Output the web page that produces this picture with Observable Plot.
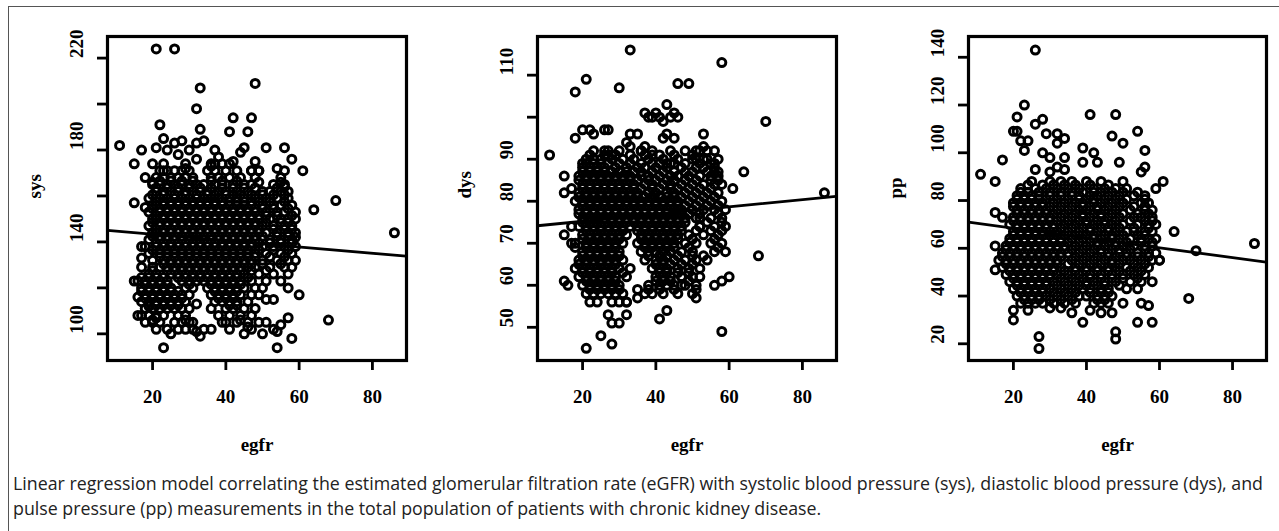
<!DOCTYPE html>
<html><head><meta charset="utf-8">
<script src="https://cdn.jsdelivr.net/npm/d3@7"></script>
<script src="https://cdn.jsdelivr.net/npm/@observablehq/plot@0.6"></script>
<style>
html,body{margin:0;padding:0;background:#fff}
body{width:1279px;height:531px;overflow:hidden;position:relative}
#border{position:absolute;left:8px;top:6px;width:1290px;height:540px;border-top:1px solid #555;border-left:1px solid #555}
.panel{position:absolute;top:0}
#caption{position:absolute;left:13px;top:471px;font-family:"Open Sans",sans-serif;font-size:18px;line-height:25px;color:#222;white-space:nowrap;transform-origin:0 0}
</style>
</head><body>
<div id="border"></div>
<div id="p1" class="panel" style="left:9px"></div>
<div id="p2" class="panel" style="left:440px"></div>
<div id="p3" class="panel" style="left:870px"></div>
<div id="caption"><div id="cap1">Linear regression model correlating the estimated glomerular filtration rate (eGFR) with systolic blood pressure (sys), diastolic blood pressure (dys), and</div><div id="cap2">pulse pressure (pp) measurements in the total population of patients with chronic kidney disease.</div></div>
<script>
// ---------- data ----------
const xDomain = [7.7, 89.3];
const xTicks = [20, 40, 60, 80];
const xName = "egfr";

const sysDomain = [88.4, 229.4];
const sysTicks = [100, 120, 140, 160, 180, 200, 220];
const sysLabels = [100, 140, 180, 220];
const sysFit = [146.1, -0.138]; // intercept, slope

const dysDomain = [42.1, 119.2];
const dysTicks = [50, 60, 70, 80, 90, 100, 110];
const dysLabels = [50, 60, 70, 80, 90, 110];
const dysFit = [73.5, 0.086];

const ppDomain = [13.0, 148.7];
const ppTicks = [20, 40, 60, 80, 100, 120, 140];
const ppLabels = [20, 40, 60, 80, 100, 120, 140];
const ppFit = [72.5, -0.205];

// scattered points [egfr, value]
const sysOuter = [[21,224],[26,224],[33,207],[48,209],[32,198],[42,194],[47,194],[22,191],[33,189],[41,188],[46,188],[11,182],[17,180],[21,181],[23,185],[26,183],[28,184],[32,183],[34,184],[24,180],[27,178],[30,180],[32,176],[37,180],[45,181],[51,181],[56,181],[58,176],[61,171],[15,174],[20,174],[18,168],[20,166],[23,171],[29,172],[38,177],[42,175],[44,179],[48,175],[47,171],[49,171],[54,172],[56,171],[49,166],[55,166],[56,164],[36,173],[37,174],
[15,157],[18,155],[64,154],[70,158],[86,144],[59,142],[17,138],[17,133],[17,129],[20,129],[24,129],[15,123],[16,116],[16,108],[23,94],[25,100],[32,113],[36,102],[40,105],[44,106],[45,100],[46,103],[50,100],[54,94],[58,98],[57,107],[54,101],[55,104],[53,115],[51,115],[68,106],[60,117],[57,120],[32,101],[33,99],[29,106],[31,105],[19,112],[20,106],[21,107]];
// dense core: [value, [egfr, ...]]
const sysCore = [
[174,[23,29,36,39,41]],
[171,[22,24,26,28,30,35,37,40,43,47,49]],
[168,[21,23,25,27,29,31,36,38,41,44,48,55]],
[166.5,[22,25,28,31,36,39,43]],
[165,[20,22,24,26,28,30,32,34,37,39,42,45,47,53,56]],
[163.5,[21,24,27,30,33,36,39,42,45,48,54]],
[162,[21,23,25,27,29,31,33,35,38,40,43,46,50,52,55,57]],
[160.5,[20,23,26,29,32,35,37,40,42,44,47,50,53,56]],
[159,[19,22,24,26,28,30,32,34,36,38,41,43,45,48,51,54,57]],
[157.5,[21,23,25,27,29,31,33,35,37,39,41,43,45,47,49,52,56]],
[156,[20,21,23,25,27,29,31,33,35,37,39,41,43,45,47,50,53,55,58]],
[154.5,[20,22,24,26,28,30,32,34,36,38,40,42,44,46,48,50,53,57]],
[153,[19,22,24,26,28,30,32,34,36,38,40,42,44,46,48,51,54,56,59]],
[151.5,[21,23,25,27,29,31,33,35,37,39,41,43,45,47,49,51,54,58]],
[150,[20,21,23,25,27,29,31,33,35,37,39,41,43,45,47,49,52,55,57,59]],
[148.5,[20,22,24,26,28,30,32,34,36,38,40,42,44,46,48,51,55,57]],
[147,[19,22,24,26,28,30,32,34,36,38,40,42,44,46,48,50,53,56,58]],
[145.5,[21,23,25,27,29,31,33,35,37,39,41,43,45,47,49,53,56,58]],
[144,[20,21,23,25,27,29,31,33,35,37,39,41,43,45,47,49,51,54,57,59]],
[142.5,[20,22,24,26,28,30,32,34,36,38,40,42,44,46,48,50,54,57]],
[141,[19,22,24,26,28,30,32,34,36,38,40,42,44,46,48,52,55,58]],
[139.5,[21,23,25,27,29,31,33,35,37,39,41,43,45,47,49,52,55,58]],
[138,[18,21,23,25,27,29,31,33,35,37,39,41,43,45,47,50,53,56,59]],
[136.5,[20,22,24,26,28,30,32,34,36,38,40,42,44,46,49,53,57]],
[135,[19,22,24,26,28,30,32,34,36,38,40,42,44,46,48,51,55,58]],
[133.5,[22,24,26,28,30,32,34,36,38,40,42,44,46,48,52,56]],
[132,[20,23,25,27,29,31,33,35,37,39,41,43,45,47,50,54,57,59]],
[130.5,[23,25,27,29,31,33,35,37,39,41,43,45,47,50,55]],
[129,[22,26,28,30,32,34,36,38,40,42,44,46,48,52,56,58]],
[127.5,[20,24,26,28,30,32,34,36,38,40,42,44,47,51]],
[126,[19,21,25,27,29,31,33,35,37,39,41,43,45,49,53,57]],
[124.5,[17,19,21,23,27,29,31,33,35,37,39,41,43,46]],
[123,[16,18,20,22,24,28,30,32,34,36,38,40,42,44,47,51,55]],
[121.5,[18,20,22,24,30,36,38,40,42,44]],
[120,[17,19,21,23,25,29,31,35,37,39,41,43,45,48,50]],
[118.5,[17,19,21,23,25,27,37,39,41,43]],
[117,[18,20,22,24,26,28,30,36,38,40,42,44,47,49]],
[115.5,[18,20,22,24,26,28,38,40,42]],
[114,[17,19,21,23,25,27,29,37,39,41,43,46]],
[112.5,[19,21,23,25,27,41,43]],
[111,[18,20,22,24,26,28,30,36,40,42,45,48]],
[108,[17,19,21,23,27,29,38,41,44,47]],
[105,[18,20,22,26,28,30,39,43,46,49,51]],
[102,[21,24,27,29,31,34,41,47,53]]];

const dysOuter = [[33,116],[58,113],[21,109],[18,106],[30,107],[46,108],[49,108],[70,99],[43,103],[37,101],[38,100],[39,100],[40,101],[41,100],[42,99],[44,100],[45,101],[46,100],[18,95],[20,97],[22,97],[23,96],[26,97],[27,97],[33,96],[35,96],[32,94],[33,93],[42,95],[43,96],[45,95],[53,96],[11,91],[15,86],[15,82],[17,83],[64,87],[61,83],[86,82],[20,89],[23,90],[26,92],[28,91],[36,92],[37,93],[39,91],[43,89],[45,89],[51,92],[53,93],[54,92],[56,92],[51,90],[53,90],[56,89],[57,87],
[21,45],[25,48],[28,46],[27,53],[28,51],[30,51],[32,53],[32,56],[41,52],[43,54],[58,49],[68,67],[56,60],[58,61],[60,62],[59,68],[15,61],[16,60],[15,72],[17,70],[18,69],[17,74],[35,59],[35,57],[51,57],[51,59],[52,62],[52,76],[52,74],[47,60],[47,62]];
const dysCore = [
[92,[23,27,30,36,39,44,48,52]],
[91,[22,26,29,33,37,41,45,50]],
[90,[21,25,28,31,34,38,42,46,50,54,57]],
[89,[21,23,25,27,30,33,36,39,41,44,48,52,55]],
[88,[20,22,24,26,29,32,35,37,40,43,47,51,53,56]],
[87,[20,22,24,26,28,30,32,34,36,39,42,45,48,50,54,56]],
[86,[19,21,23,25,27,29,31,33,36,38,41,44,46,49,52,55,57]],
[85,[19,21,23,25,27,29,31,33,35,38,40,43,45,48,51,55,57]],
[84,[20,22,24,26,28,30,32,34,37,39,42,44,47,50,53,56,58]],
[83,[20,22,24,26,28,30,32,34,36,39,41,44,46,49,52,55]],
[82,[19,21,23,25,27,29,31,33,35,38,40,43,45,48,51,54,57]],
[81,[19,21,23,25,27,29,31,33,35,37,39,41,43,45,47,50,53,56]],
[80,[18,20,22,24,26,28,30,32,34,36,38,40,42,44,46,49,52,55,58]],
[79,[20,22,24,26,28,30,32,34,36,38,40,42,44,46,48,51,54,57]],
[78,[19,21,23,25,27,29,31,33,35,37,39,41,43,45,47,50,53,56,59]],
[77,[19,21,23,25,27,29,31,33,35,37,39,41,43,45,47,49,52,57]],
[76,[20,22,24,26,28,30,32,34,36,38,40,42,44,46,48,51,55,58]],
[75,[20,22,24,26,28,30,32,34,36,38,40,42,44,46,48,54,58]],
[74,[19,21,23,25,27,29,31,33,35,37,39,41,43,45,47,52,56,59]],
[73,[21,23,25,27,29,31,35,37,39,41,43,45,47,51,55,58]],
[72,[20,22,24,26,28,30,32,36,38,40,42,44,46,49,53,57]],
[71,[20,22,24,26,28,30,36,38,40,42,44,46,50,56]],
[70,[18,21,23,25,27,29,31,35,37,39,41,43,45,48,51,55,58]],
[69,[21,23,25,27,29,37,39,41,43,45,49,57]],
[68,[20,22,24,26,28,30,36,38,40,42,44,47,50,56]],
[67,[20,22,24,26,28,30,38,41,43,46,50,53]],
[66,[19,21,23,25,27,29,31,37,40,42,45,48,51,54]],
[65,[19,21,23,25,27,29,40,42,44,47,50]],
[64,[18,20,22,24,26,28,30,33,39,41,43,46,49,52]],
[63,[20,22,24,26,28,31,41,43,46,49]],
[62,[19,21,23,25,27,29,32,40,42,44,47,50]],
[61,[21,23,25,27,29,40,42,44,49]],
[60,[20,22,24,26,28,30,38,41,43,45,48,51]],
[59,[22,24,26,28,30,38,41,45]],
[58,[21,23,25,27,29,31,37,39,42,46,50]],
[56,[22,24,28,30,32]]];

const ppOuter = [[26,143],[23,120],[21,115],[28,114],[26,112],[20,109],[21,109],[22,105],[24,105],[23,101],[41,116],[48,116],[47,107],[50,104],[54,109],[56,101],[11,91],[15,88],[17,97],[61,88],[59,85],[55,92],[56,94],[29,108],[32,108],[34,106],[32,104],[28,100],[30,98],[34,98],[39,102],[42,100],[49,96],[39,96],[43,96],[26,93],[30,92],[32,94],[34,93],
[27,18],[27,23],[48,25],[48,22],[20,34],[20,30],[39,29],[54,29],[58,29],[55,37],[57,36],[68,39],[64,67],[70,59],[86,62],[15,75],[15,61],[15,51],[17,73],[30,35],[33,35],[36,33],[41,34],[44,33],[47,33],[50,37],[24,34],[60,55]];
const ppCore = [
[88,[25,30,33,36,40,44,50]],
[86.5,[24,28,31,34,37,41,46]],
[85,[22,26,29,32,35,38,42,45,48,51]],
[83.5,[22,24,27,30,33,36,39,42,44,47,50,54]],
[82,[21,23,25,27,30,33,36,38,41,43,46,49,53,56]],
[80.5,[21,23,25,27,29,32,35,38,40,42,45,48,51,56]],
[79,[20,22,24,26,28,31,34,37,39,42,44,47,50,55,57]],
[77.5,[20,22,24,26,28,30,33,36,39,41,43,46,49,53,56]],
[76,[21,23,25,27,29,32,35,38,40,43,45,48,52,56,58]],
[74.5,[21,23,25,27,29,31,34,37,39,42,44,47,50,54,57]],
[73,[20,22,24,26,28,30,33,36,39,41,44,46,49,53,55,58]],
[71.5,[20,22,24,26,28,30,32,35,38,40,43,45,48,52,56,58]],
[70,[19,21,23,25,27,29,31,34,37,40,42,45,47,50,54,57,59]],
[68.5,[21,23,25,27,29,31,33,36,39,41,44,46,49,53,57]],
[67,[20,22,24,26,28,30,32,35,38,41,43,46,48,51,53,56,58]],
[65.5,[20,22,24,26,28,30,32,34,37,40,42,45,47,50,54,56]],
[64,[19,21,23,25,27,29,31,33,36,39,42,44,47,49,52,55,57,59]],
[62.5,[19,21,23,25,27,29,31,33,35,38,41,43,46,48,51,55,58]],
[61,[18,20,22,24,26,28,30,32,34,37,40,43,45,48,50,53,56,58]],
[59.5,[18,20,22,24,26,28,30,32,34,36,39,42,44,47,49,52,56]],
[58,[17,19,21,23,25,27,29,31,33,35,38,41,44,46,49,51,54,57,59]],
[56.5,[17,19,21,23,25,27,29,31,33,37,40,43,46,48,51,54,57]],
[55,[16,18,20,22,24,26,28,30,32,36,39,42,45,47,50,52,55,58,60]],
[53.5,[18,20,22,24,26,28,30,32,35,38,41,44,47,49,53,56]],
[52,[17,19,21,23,25,27,29,31,33,37,40,43,46,48,51,54,57]],
[50.5,[19,21,23,25,27,29,31,34,37,40,43,46,49,52,55]],
[49,[18,20,22,24,26,28,30,32,35,38,41,44,47,50,53,56]],
[47.5,[20,22,24,26,28,30,33,36,39,41,44,47,50,54]],
[46,[19,21,23,25,27,29,31,34,37,40,42,45,48,52,55,58]],
[44.5,[21,23,25,27,29,32,35,38,40,43,45,49]],
[43,[20,22,24,26,28,30,33,36,39,41,44,46,51,54]],
[41.5,[22,24,26,28,31,34,37,41,44,46]],
[40,[21,23,25,27,29,32,35,38,40,43,45,47]],
[38.5,[23,25,27,30,33,36,43,45]],
[37,[22,24,26,28,31,34,37,42,44,46]]];

// ---------- drawing ----------
function expand(outer, core) {
  const pts = outer.map(([x, y]) => ({x, y}));
  for (const [y, xs] of core) for (const x of xs) pts.push({x, y});
  return pts;
}

const serif = "'Liberation Serif', 'Times New Roman', serif";

function panel(el, width, ml, mr, yDomain, yTicks, yLabels, yName, pts, fit) {
  const line = xDomain.map(x => ({x, y: fit[0] + fit[1] * x}));
  const chart = Plot.plot({
    width, height: 470,
    marginTop: 36, marginBottom: 110, marginLeft: ml, marginRight: mr,
    x: {domain: xDomain}, y: {domain: yDomain},
    style: {fontFamily: serif, fontWeight: "bold", background: "transparent", color: "#000"},
    marks: [
      Plot.dot(pts, {x: "x", y: "y", r: 4, stroke: "#000", strokeWidth: 3, fill: "none"}),
      Plot.line(line, {x: "x", y: "y", stroke: "#000", strokeWidth: 2.8, clip: true}),
      Plot.frame({stroke: "#000", strokeWidth: 3.2}),
      Plot.axisX({ticks: xTicks, tickSize: 10, tickPadding: 19, fontSize: 19, strokeWidth: 2.8, label: null, tickFormat: d => String(d)}),
      Plot.axisY({ticks: yTicks, tickSize: 10, tickFormat: () => "", label: null, strokeWidth: 2.8}),
      Plot.text(yLabels, {y: d => d, text: d => String(d), frameAnchor: "left", dx: -31, rotate: -90, fontSize: 19}),
      Plot.text([yName], {text: d => d, frameAnchor: "left", dx: -73, rotate: -90, fontSize: 19}),
      Plot.text([xName], {text: d => d, frameAnchor: "bottom", dy: 90, fontSize: 19})
    ]
  });
  document.getElementById(el).appendChild(chart);
}

panel("p1", 405, 98, 8, sysDomain, sysTicks, sysLabels, "sys", expand(sysOuter, sysCore), sysFit);
panel("p2", 400, 97, 4, dysDomain, dysTicks, dysLabels, "dys", expand(dysOuter, dysCore), dysFit);
panel("p3", 405, 98, 9, ppDomain, ppTicks, ppLabels, "pp", expand(ppOuter, ppCore), ppFit);

// fit caption to its measured width in the reference
const cap = document.getElementById("caption");
const c1 = document.getElementById("cap1");
const r = document.createRange(); r.selectNodeContents(c1);
const w = r.getBoundingClientRect().width;
cap.style.transform = `scaleX(${1250 / w})`;
</script>
</body></html>
